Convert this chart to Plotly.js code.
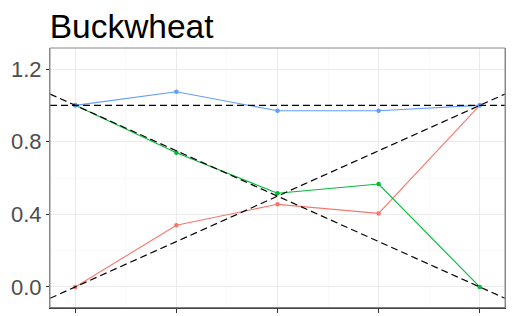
<!DOCTYPE html>
<html><head><meta charset="utf-8">
<script src="https://cdn.plot.ly/plotly-3.0.1.min.js"></script>
<style>html,body{margin:0;padding:0;background:#fff}#chart{width:512px;height:316px}</style>
</head><body><div id="chart"></div>
<script>
var xs = [1, 2, 3, 4, 5];
var redVals = [0.0, 0.34, 0.455, 0.405, 1.0];
var greenVals = [1.0, 0.739, 0.516, 0.567, 0.0];
var blueVals = [1.0, 1.075, 0.970, 0.970, 1.0];
var xRange = [0.75, 5.25];
var yRange = [-0.116, 1.316];
var yTicks = [0.0, 0.4, 0.8, 1.2];
var yTickLabels = ['0.0', '0.4', '0.8', '1.2'];

// reference lines: constant 1, decreasing 1->0 and increasing 0->1 over x=1..5
function lineThrough(x0, y0, x1, y1) {
  var s = (y1 - y0) / (x1 - x0);
  return xRange.map(function (x) { return y0 + s * (x - x0); });
}
var refFlat = lineThrough(1, 1, 5, 1);
var refDown = lineThrough(1, 1, 5, 0);
var refUp = lineThrough(1, 0, 5, 1);

function series(y, color) {
  return {x: xs, y: y, type: 'scatter', mode: 'lines+markers',
    line: {color: color, width: 1.1}, marker: {color: color, size: 4.5}, hoverinfo: 'skip'};
}
function ref(y) {
  return {x: xRange, y: y, type: 'scatter', mode: 'lines',
    line: {color: '#000000', width: 1.2, dash: '7px,4px'}, hoverinfo: 'skip'};
}
var data = [
  series(redVals, '#F8766D'),
  series(greenVals, '#00BA38'),
  series(blueVals, '#619CFF'),
  ref(refFlat), ref(refDown), ref(refUp)
];
var layout = {
  width: 512, height: 316,
  margin: {l: 50, r: 7, t: 48, b: 8},
  paper_bgcolor: '#ffffff', plot_bgcolor: '#ffffff',
  showlegend: false,
  title: {text: 'Buckwheat', x: 0.097, xanchor: 'left', y: 0.881, yanchor: 'bottom',
    font: {family: 'Liberation Sans, Arial, sans-serif', size: 33.5, color: '#000000'}},
  xaxis: {range: xRange, tickvals: xs, ticktext: ['', '', '', '', ''],
    showgrid: true, gridcolor: '#ebebeb', gridwidth: 1,
    minor: {dtick: 0.5, tick0: 0.5, showgrid: true, gridcolor: '#f5f5f5', gridwidth: 0.6},
    ticks: 'outside', ticklen: 4, tickcolor: '#333333', tickwidth: 1,
    showline: true, linecolor: '#333333', linewidth: 1, zeroline: false, fixedrange: true},
  yaxis: {range: yRange, tickvals: yTicks, ticktext: yTickLabels,
    showgrid: true, gridcolor: '#ebebeb', gridwidth: 1,
    minor: {tickvals: [0.2, 0.6, 1.0], showgrid: true, gridcolor: '#f5f5f5', gridwidth: 0.6},
    ticks: 'outside', ticklen: 3, tickcolor: '#333333', tickwidth: 1,
    tickfont: {family: 'Liberation Sans, Arial, sans-serif', size: 22, color: '#4d4d4d'},
    showline: true, linecolor: '#888888', linewidth: 1, mirror: true, zeroline: false, fixedrange: true},
  shapes: [{type: 'rect', xref: 'paper', yref: 'paper', x0: 0, x1: 1, y0: 0, y1: 1,
    line: {color: '#888888', width: 1}, fillcolor: 'rgba(0,0,0,0)', layer: 'above'},
    {type: 'line', xref: 'paper', yref: 'paper', x0: 0, x1: 1, y0: 0, y1: 0,
    line: {color: '#333333', width: 1}, layer: 'above'}]
};
Plotly.newPlot('chart', data, layout, {displayModeBar: false, staticPlot: true});
</script></body></html>
